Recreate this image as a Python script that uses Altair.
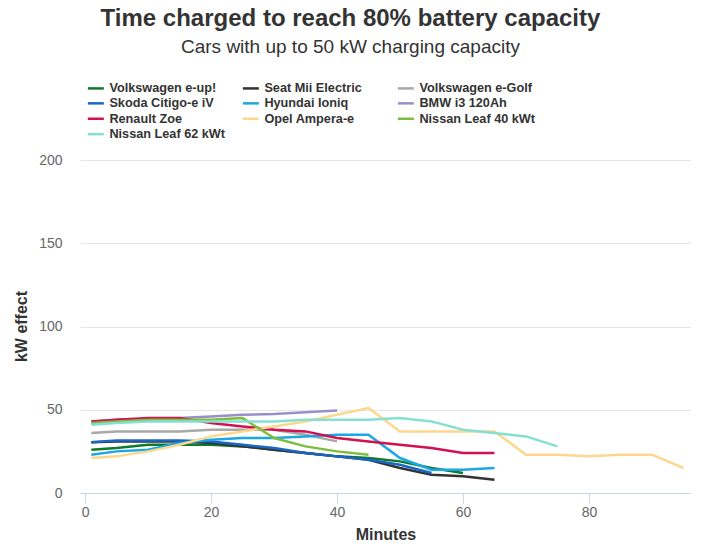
import altair as alt
import pandas as pd

FONT = "Liberation Sans, Arial, Helvetica, sans-serif"

series = [
    "Volkswagen e-up!", "Seat Mii Electric", "Volkswagen e-Golf",
    "Skoda Citigo-e iV", "Hyundai Ioniq", "BMW i3 120Ah",
    "Renault Zoe", "Opel Ampera-e", "Nissan Leaf 40 kWt",
    "Nissan Leaf 62 kWt",
]
colors = [
    "#0f7a2a", "#333333", "#a8a8a8",
    "#1a66c4", "#1aa7e6", "#9b8fcb",
    "#d2114e", "#fcd78c", "#7cbd3e",
    "#86dfd3",
]

minutes = [1, 5, 10, 15, 20, 25, 30, 35, 40, 45, 50, 55, 60, 65, 70, 75, 80, 85, 90, 95]

vw_eup = [26, 27, 29, 29, 29, 28, 26, 24, 22, 21, 19, 15, 12]
seat_mii = [30.5, 31, 31, 31, 30, 28, 26, 24, 22, 20, 15, 11, 10, 8]
vw_egolf = [36, 37, 37, 37, 38, 38, 38, 35, 31]
skoda = [30.5, 31.5, 31.5, 31.5, 31, 29, 27, 24, 22, 20, 17, 12]
hyundai = [23, 25, 26, 30, 32, 33, 33, 34, 35, 35, 21, 14, 14, 15]
bmw = [43, 44, 44.5, 45, 46, 47, 47.5, 48.5, 49.5]
renault = [43, 44, 45, 45, 42, 40, 38, 37, 33, 31, 29, 27, 24, 24]
opel = [21, 22, 25, 29, 34, 37, 40, 43, 47, 51, 37, 37, 37, 37, 23, 23, 22, 23, 23, 15]
leaf40 = [42, 43, 44, 44, 44, 45, 33, 28, 25, 23]
leaf62 = [41, 42, 43, 43, 43, 43, 43, 44, 44, 44, 45, 43, 38, 36, 34, 28]

values = [vw_eup, seat_mii, vw_egolf, skoda, hyundai, bmw, renault, opel, leaf40, leaf62]

rows = []
for i, (name, vals) in enumerate(zip(series, values)):
    for j, v in enumerate(vals):
        rows.append({"car": name, "idx": i, "Minutes": minutes[j], "kW": v})
df = pd.DataFrame(rows)

chart = (
    alt.Chart(df)
    .mark_line(strokeWidth=2.5)
    .encode(
        x=alt.X(
            "Minutes:Q",
            scale=alt.Scale(domain=[-0.8, 96.2], nice=False, zero=False),
            axis=alt.Axis(
                values=[0, 20, 40, 60, 80],
                grid=False,
                domainColor="#ccd6eb",
                tickColor="#ccd6eb",
                tickSize=10,
                labelPadding=2,
                labelFontSize=14,
                labelColor="#666666",
                labelFont=FONT,
                title="Minutes",
                titleFont=FONT,
                titleFontSize=16,
                titleFontWeight="bold",
                titleColor="#333333",
                titleBaseline="alphabetic",
                titleY=46,
            ),
        ),
        y=alt.Y(
            "kW:Q",
            scale=alt.Scale(domain=[0, 200], nice=False),
            axis=alt.Axis(
                values=[0, 50, 100, 150, 200],
                grid=True,
                gridColor="#e6e6e6",
                domain=False,
                ticks=False,
                labelPadding=18,
                labelFontSize=14,
                labelColor="#666666",
                labelFont=FONT,
                title="kW effect",
                titleFont=FONT,
                titleFontSize=16,
                titleFontWeight="bold",
                titleColor="#333333",
                titleAngle=270,
                titleBaseline="alphabetic",
                titleAlign="center",
                titleX=-54,
                titleY=166,
            ),
        ),
        color=alt.Color(
            "car:N",
            scale=alt.Scale(domain=series, range=colors),
            legend=alt.Legend(
                title=None,
                orient="none",
                legendX=9.5,
                legendY=-78.4,
                columns=3,
                direction="horizontal",
                symbolType="M-2.286,0H2.286",
                symbolSize=49,
                symbolStrokeWidth=2.5,
                labelFont=FONT,
                labelFontSize=12.7,
                labelFontWeight="bold",
                labelColor="#333333",
                labelOffset=7.2,
                labelLimit=0,
                columnPadding=12,
                rowPadding=1.4,
                gridAlign="all",
                padding=0,
            ),
        ),
        order=alt.Order("Minutes:Q"),
        detail="idx:O",
    )
    .properties(
        width=611,
        height=333,
        autosize=alt.AutoSizeParams(type="none"),
        padding={"left": 72, "top": 152, "right": 0, "bottom": 49},
        title=alt.TitleParams(
            text="Time charged to reach 80% battery capacity",
            subtitle="Cars with up to 50 kW charging capacity",
            anchor="middle",
            frame="group",
            dx=-35,
            font=FONT,
            fontSize=24,
            fontWeight="bold",
            color="#333333",
            subtitleFont=FONT,
            subtitleFontSize=19,
            subtitleColor="#333333",
            subtitlePadding=7,
            offset=25.1,
        ),
    )
    .configure_view(stroke=None)
)

chart.save("out.html", embed_options={"renderer": "svg", "actions": False})
